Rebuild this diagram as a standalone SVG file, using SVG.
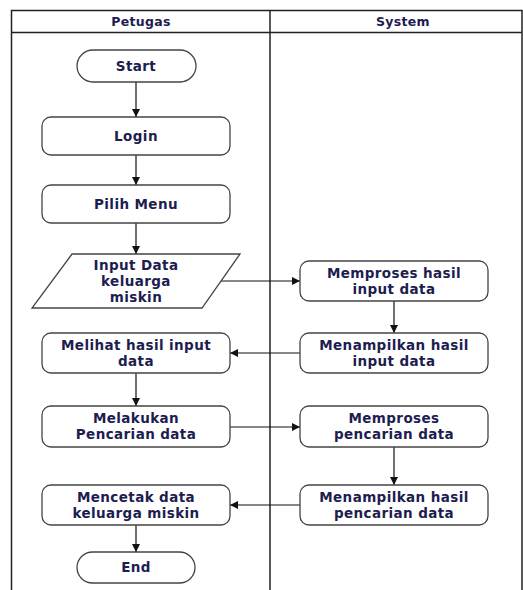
<svg xmlns="http://www.w3.org/2000/svg" width="523" height="590" viewBox="0 0 523 590">
<style>
.frame{fill:none;stroke:#222;stroke-width:1.5}
.box{fill:#fff;stroke:#444;stroke-width:1.3}
.t{font-family:"DejaVu Sans","Liberation Sans",sans-serif;font-weight:bold;font-size:13.5px;letter-spacing:0.4px;fill:#1d1d4f;text-anchor:middle}
.h{font-family:"DejaVu Sans","Liberation Sans",sans-serif;font-weight:bold;font-size:12.5px;letter-spacing:0.3px;fill:#1d1d4f;text-anchor:middle}
.c{fill:none;stroke:#111;stroke-width:1.2}
</style>
<defs>
<marker id="ar" viewBox="0 0 10 10" refX="10" refY="5" markerWidth="8" markerHeight="8" markerUnits="userSpaceOnUse" orient="auto">
<path d="M0,0 L10,5 L0,10 z" fill="#111"/>
</marker>
</defs>
<rect width="523" height="590" fill="#fff"/>
<g id="lanes">
<path class="frame" d="M11.5,590 V10.5 H522 V590"/>
<line class="frame" x1="11" y1="32.5" x2="522" y2="32.5"/>
<line class="frame" x1="270" y1="10" x2="270" y2="590"/>
<text class="h" x="141" y="26">Petugas</text>
<text class="h" x="403" y="26">System</text>
</g>
<g id="connectors">
<line class="c" x1="136" y1="82" x2="136" y2="117" marker-end="url(#ar)"/>
<line class="c" x1="136" y1="155" x2="136" y2="185" marker-end="url(#ar)"/>
<line class="c" x1="136" y1="223" x2="136" y2="254" marker-end="url(#ar)"/>
<line class="c" x1="221" y1="281" x2="300" y2="281" marker-end="url(#ar)"/>
<line class="c" x1="394" y1="301" x2="394" y2="333" marker-end="url(#ar)"/>
<line class="c" x1="300" y1="353" x2="230" y2="353" marker-end="url(#ar)"/>
<line class="c" x1="136" y1="373" x2="136" y2="406" marker-end="url(#ar)"/>
<line class="c" x1="230" y1="427" x2="300" y2="427" marker-end="url(#ar)"/>
<line class="c" x1="394" y1="447" x2="394" y2="485" marker-end="url(#ar)"/>
<line class="c" x1="300" y1="505" x2="230" y2="505" marker-end="url(#ar)"/>
<line class="c" x1="136" y1="525" x2="136" y2="552" marker-end="url(#ar)"/>
</g>
<g id="start">
<rect class="box" x="77" y="50" width="119" height="32" rx="16"/>
<text class="t" x="136" y="71">Start</text>
</g>
<g id="login">
<rect class="box" x="42" y="117" width="188" height="38" rx="9"/>
<text class="t" x="136" y="141">Login</text>
</g>
<g id="pilih-menu">
<rect class="box" x="42" y="185" width="188" height="38" rx="9"/>
<text class="t" x="136" y="209">Pilih Menu</text>
</g>
<g id="input-data">
<polygon class="box" points="72,254 240,254 202,308 32,308"/>
<text class="t" x="136" y="270">Input Data</text>
<text class="t" x="136" y="286">keluarga</text>
<text class="t" x="136" y="302">miskin</text>
</g>
<g id="memproses-hasil">
<rect class="box" x="300" y="261" width="188" height="40" rx="9"/>
<text class="t" x="394" y="278">Memproses hasil</text>
<text class="t" x="394" y="294">input data</text>
</g>
<g id="menampilkan-hasil-input">
<rect class="box" x="300" y="333" width="188" height="40" rx="9"/>
<text class="t" x="394" y="350">Menampilkan hasil</text>
<text class="t" x="394" y="366">input data</text>
</g>
<g id="melihat-hasil">
<rect class="box" x="42" y="333" width="188" height="40" rx="9"/>
<text class="t" x="136" y="350">Melihat hasil input</text>
<text class="t" x="136" y="366">data</text>
</g>
<g id="melakukan-pencarian">
<rect class="box" x="42" y="406" width="188" height="41" rx="9"/>
<text class="t" x="136" y="423">Melakukan</text>
<text class="t" x="136" y="439">Pencarian data</text>
</g>
<g id="memproses-pencarian">
<rect class="box" x="300" y="406" width="188" height="41" rx="9"/>
<text class="t" x="394" y="423">Memproses</text>
<text class="t" x="394" y="439">pencarian data</text>
</g>
<g id="menampilkan-pencarian">
<rect class="box" x="300" y="485" width="188" height="40" rx="9"/>
<text class="t" x="394" y="502">Menampilkan hasil</text>
<text class="t" x="394" y="518">pencarian data</text>
</g>
<g id="mencetak">
<rect class="box" x="42" y="485" width="188" height="40" rx="9"/>
<text class="t" x="136" y="502">Mencetak data</text>
<text class="t" x="136" y="518">keluarga miskin</text>
</g>
<g id="end">
<rect class="box" x="77" y="552" width="118" height="31" rx="15.5"/>
<text class="t" x="136" y="572">End</text>
</g>
</svg>
